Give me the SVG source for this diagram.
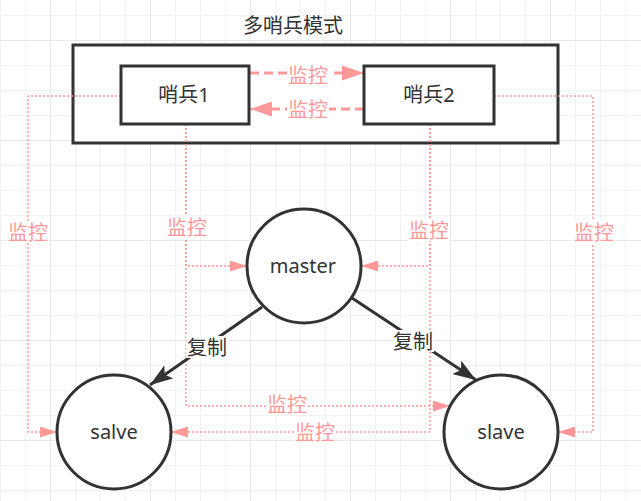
<svg xmlns="http://www.w3.org/2000/svg" width="641" height="501" viewBox="0 0 641 501">
<style>
text{font-family:"Noto Sans","Noto Sans CJK SC",sans-serif;font-size:20px;text-anchor:middle;fill:#333}
.pl{fill:#FF9999}
.bg{fill:#fff}
.box{fill:#fff;stroke:#333;stroke-width:3}
.dot{fill:none;stroke:#FF9999;stroke-width:1.5;stroke-dasharray:2 2}
.dash{fill:none;stroke:#FF9999;stroke-width:3;stroke-dasharray:9 5}
.rep{fill:none;stroke:#333;stroke-width:3}
.gm{stroke:#f2f2f2;stroke-width:1}
.gM{stroke:#e8e8e8;stroke-width:1}
</style>
<defs>
<pattern id="gmin" width="25" height="25" patternUnits="userSpaceOnUse" y="15">
<path d="M0.5,0 V25 M0,0.5 H25" class="gm" fill="none"/>
</pattern>
<pattern id="gmaj" width="100" height="100" patternUnits="userSpaceOnUse" x="50" y="40">
<path d="M0.5,0 V100 M0,0.5 H100" class="gM" fill="none"/>
</pattern>
<marker id="aBig" markerUnits="userSpaceOnUse" markerWidth="22" markerHeight="15" refX="22" refY="7.5" orient="auto">
<path d="M0,0 L22,7.5 L0,15 z" fill="#FF9999"/>
</marker>
<marker id="aSm" markerUnits="userSpaceOnUse" markerWidth="17" markerHeight="11" refX="17" refY="5.5" orient="auto">
<path d="M0,0 L17,5.5 L0,11 z" fill="#FF9999"/>
</marker>
<marker id="aBk" markerUnits="userSpaceOnUse" markerWidth="24" markerHeight="16" refX="23" refY="8" orient="auto">
<path d="M0,0 L23,8 L0,16 L5,8 z" fill="#333"/>
</marker>
</defs>
<rect width="641" height="501" fill="#fff"/>
<rect width="641" height="501" fill="url(#gmin)"/>
<rect width="641" height="501" fill="url(#gmaj)"/>

<g id="group-sentinels">
<rect x="73" y="45" width="485" height="98" class="box"/>
<text x="293" y="33">多哨兵模式</text>
</g>

<g id="connectors">
<path class="dot" d="M121,96 H28 V432 H57" marker-end="url(#aSm)"/>
<path class="dot" d="M186,124 V266 H247" marker-end="url(#aSm)"/>
<path class="dot" d="M186,124 V406 H450" marker-end="url(#aSm)"/>
<path class="dot" d="M430,124 V266 H361" marker-end="url(#aSm)"/>
<path class="dot" d="M430,124 V432 H171" marker-end="url(#aSm)"/>
<path class="dot" d="M494,96 H593 V432 H558" marker-end="url(#aSm)"/>
<path class="dash" d="M250,73 H364" marker-end="url(#aBig)"/>
<path class="dash" d="M364,109 H250" marker-end="url(#aBig)"/>
<path class="rep" d="M262,307 L150,385" marker-end="url(#aBk)"/>
<path class="rep" d="M352,298 L476,380" marker-end="url(#aBk)"/>

<rect class="bg" x="287" y="64" width="42" height="22"/>
<text class="pl" x="308" y="83">监控</text>
<rect class="bg" x="287" y="98" width="42" height="22"/>
<text class="pl" x="308" y="117">监控</text>
<rect class="bg" x="7" y="221" width="42" height="22"/>
<text class="pl" x="28" y="240">监控</text>
<rect class="bg" x="166" y="216" width="42" height="22"/>
<text class="pl" x="187" y="235">监控</text>
<rect class="bg" x="408" y="219" width="42" height="22"/>
<text class="pl" x="429" y="238">监控</text>
<rect class="bg" x="573" y="221" width="42" height="22"/>
<text class="pl" x="594" y="240">监控</text>
<rect class="bg" x="266" y="393" width="42" height="22"/>
<text class="pl" x="287" y="412">监控</text>
<rect class="bg" x="294" y="421" width="42" height="22"/>
<text class="pl" x="315" y="440">监控</text>
<rect class="bg" x="186" y="336" width="42" height="22"/>
<text x="207" y="355">复制</text>
<rect class="bg" x="392" y="330" width="42" height="22"/>
<text x="413" y="349">复制</text>
</g>

<g id="sentinel1">
<rect x="121" y="66" width="128" height="58" class="box"/>
<text x="184" y="102">哨兵1</text>
</g>
<g id="sentinel2">
<rect x="364" y="66" width="130" height="58" class="box"/>
<text x="429" y="102">哨兵2</text>
</g>
<g id="master">
<circle cx="304" cy="266" r="57" class="box"/>
<text x="303" y="273">master</text>
</g>
<g id="salve">
<circle cx="114" cy="432" r="57" class="box"/>
<text x="114" y="439">salve</text>
</g>
<g id="slave">
<circle cx="501" cy="432" r="57" class="box"/>
<text x="501" y="439">slave</text>
</g>
</svg>
